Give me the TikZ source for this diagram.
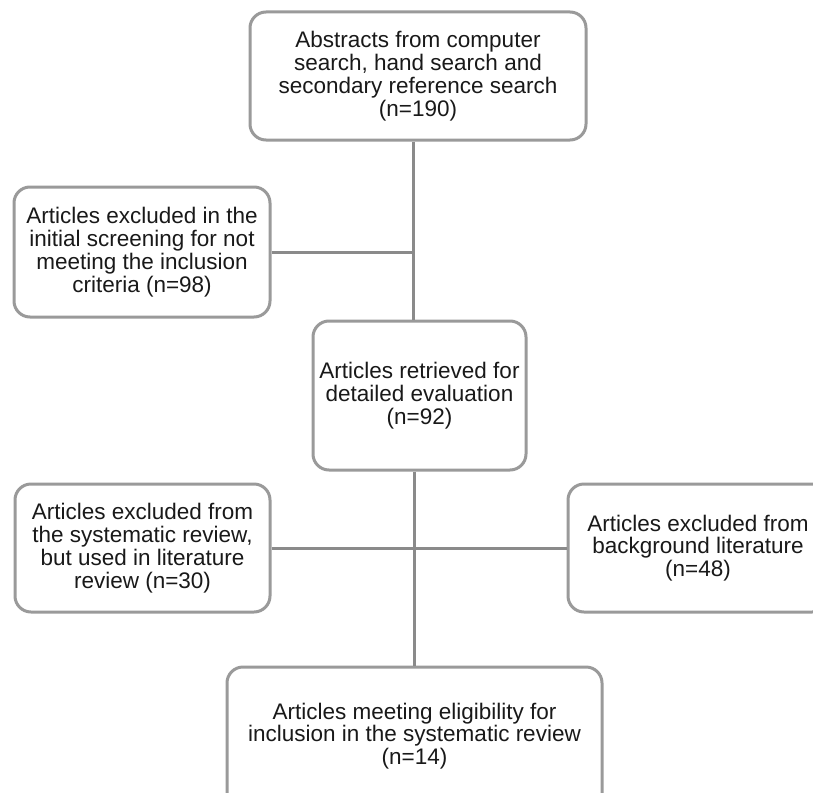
\documentclass[tikz,border=0pt]{standalone}
\usepackage{fontspec}
\setmainfont{Liberation Sans}
\begin{document}
\begin{tikzpicture}[x=1pt,y=-1pt,
  txt/.style={align=center, font=\fontsize{22.5}{22.8}\selectfont, text=black!90, inner sep=0pt},
  box/.style={txt, draw=boxgray, line width=3pt, rounded corners=16pt, fill=white},
  link/.style={draw=linegray, line width=3pt}]
\definecolor{boxgray}{HTML}{9A9A9A}
\definecolor{linegray}{HTML}{8A8A8A}
\useasboundingbox (0,0) rectangle (813,792);
\fill[white] (0,0) rectangle (813,792);
\node[box, minimum width=336pt, minimum height=128pt] (top) at (418,76)
  {Abstracts from computer\\search, hand search and\\secondary reference search\\(n=190)};
\node[box, minimum width=256pt, minimum height=130pt] (ex1) at (142,252)
  {Articles excluded in the\\initial screening for not\\meeting the inclusion\\criteria (n=98)};
\node[box, minimum width=213pt, minimum height=149pt] (mid) at (419.5,395.5)
  {Articles retrieved for\\detailed evaluation\\(n=92)};
\node[box, minimum width=255pt, minimum height=128pt] (ex2) at (142.5,548)
  {Articles excluded from\\the systematic review,\\but used in literature\\review (n=30)};
\node[box, minimum width=260pt, minimum height=128pt] (ex3) at (698,548)
  {Articles excluded from\\background literature\\(n=48)};
\node[box, minimum width=375pt, minimum height=150pt] (fin) at (414.5,742) {};
\node[txt] (fintxt) at (414.5,736)
  {Articles meeting eligibility for\\inclusion in the systematic review\\(n=14)};
\coordinate (j1) at (413,252);
\coordinate (j2) at (414,548);
\draw[link] (top.south -| j1) -- (mid.north -| j1);
\draw[link] (ex1.east) -- (j1);
\draw[link] (mid.south -| j2) -- (fin.north -| j2);
\draw[link] (ex2.east) -- (ex3.west);
\end{tikzpicture}
\end{document}
